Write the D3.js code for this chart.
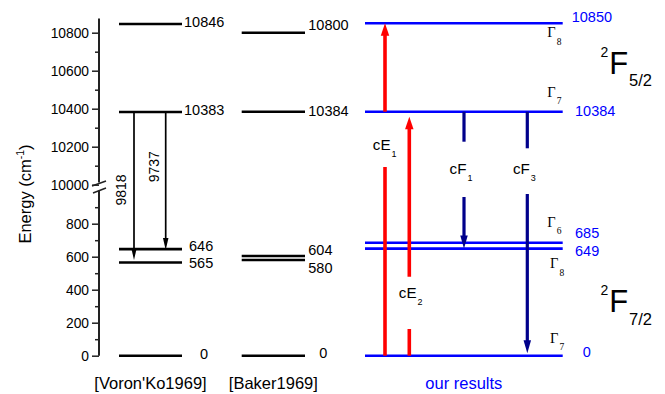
<!DOCTYPE html>
<html>
<head>
<meta charset="utf-8">
<script src="https://cdn.jsdelivr.net/npm/d3@7"></script>
<style>
  body { margin: 0; background: #fff; }
  svg { display: block; }
</style>
</head>
<body>
<svg id="chart" width="665" height="394"></svg>
<script>
// ---- Data: crystal-field levels (cm^-1) ----
const columns = ["[Voron'Ko1969]", "[Baker1969]", "our results"];
const levelsVoronko = [0, 565, 646, 10383, 10846];
const levelsBaker = [0, 580, 604, 10384, 10800];
const levelsOurs = [0, 649, 685, 10384, 10850];
const irrepsOurs = ["7", "8", "6", "7", "8"];

// axis ticks (broken axis: low and high segments)
const lowTicks = [0, 200, 400, 600, 800];
const lowMinor = [100, 300, 500, 700, 900];
const highTicks = [10000, 10200, 10400, 10600, 10800];
const highMinor = [10100, 10300, 10500, 10700];

// transitions
const voronkoFrom = [10383, 10383];
const voronkoTo = [565, 646];
const absFrom = [0, 0];
const absTo = [10850, 10384];
const absNames = [["cE", "1"], ["cE", "2"]];
const emFrom = [10384, 10384];
const emTo = [649, 0];
const emNames = [["cF", "1"], ["cF", "3"]];

// multiplets
const termNames = [["2", "F", "5/2"], ["2", "F", "7/2"]];
const termRanges = [[10384, 10850], [0, 685]];

// ---- Layout ----
const SANS = "'Liberation Sans', Arial, Helvetica, sans-serif";
const SERIF = "'Liberation Serif', 'Times New Roman', serif";
const BLUE = "#0000ff", RED = "#ff0000", NAVY = "#00008b";
const axisX = 99;

const svg = d3.select("#chart");

const yLow = d3.scaleLinear().domain([0, 1000]).range([355.7, 190.7]);
const yHigh = d3.scaleLinear().domain([10000, 10875]).range([184.7, 18.45]);
const y = v => (v >= 5000 ? yHigh(v) : yLow(v));

const colX = d3.scaleOrdinal().domain(columns)
  .range([[119, 182], [241.7, 305], [365, 562.7]]);

// ---- Axis ----
function drawAxis(scale, major, minor) {
  const gMaj = svg.append("g")
    .attr("transform", `translate(${axisX},0)`)
    .call(d3.axisLeft(scale).tickValues(major).tickSize(7).tickPadding(3).tickFormat(d3.format("d")));
  gMaj.select(".domain").remove();
  gMaj.selectAll("line").attr("stroke", "#222").attr("stroke-width", 1.5);
  gMaj.selectAll("text").attr("font-family", SANS).attr("font-size", 13.8).attr("fill", "#000");
  const gMin = svg.append("g")
    .attr("transform", `translate(${axisX},0)`)
    .call(d3.axisLeft(scale).tickValues(minor).tickSize(4).tickFormat(""));
  gMin.select(".domain").remove();
  gMin.selectAll("line").attr("stroke", "#222").attr("stroke-width", 1.5);
}
drawAxis(yLow, lowTicks, lowMinor);
drawAxis(yHigh, highTicks, highMinor);

// axis spine in two pieces with a break mark
const spine = svg.append("g").attr("stroke", "#222").attr("stroke-width", 2);
spine.append("line").attr("x1", axisX).attr("x2", axisX)
  .attr("y1", yHigh.range()[1]).attr("y2", 182.5);
spine.append("line").attr("x1", axisX).attr("x2", axisX)
  .attr("y1", 190.5).attr("y2", yLow.range()[0]);
const brk = svg.append("g").attr("stroke", "#222").attr("stroke-width", 1.5);
brk.append("line").attr("x1", 92).attr("y1", 186).attr("x2", 106).attr("y2", 181);
brk.append("line").attr("x1", 93).attr("y1", 193).attr("x2", 106).attr("y2", 188);

// axis title
svg.append("text")
  .attr("transform", `translate(31,194) rotate(-90)`)
  .attr("text-anchor", "middle")
  .attr("font-family", SANS).attr("font-size", 16.5)
  .call(t => {
    t.append("tspan").text("Energy (cm");
    t.append("tspan").attr("font-size", 10.5).attr("dy", -7).text("-1");
    t.append("tspan").attr("dy", 7).text(")");
  });

// ---- Level lines ----
const levelSets = [
  { col: columns[0], values: levelsVoronko, color: "#000",
    dx: [18, 7, 7, 2, 2], dy: [3.6, 6, 1.4, 3.3, 2.7], size: 14.5 },
  { col: columns[1], values: levelsBaker, color: "#000",
    dx: [14.3, 3.3, 3.3, 3.3, 3.3], dy: [2.3, 13.3, -0.7, 4, -2.3], size: 14.5 },
  { col: columns[2], values: levelsOurs, color: BLUE,
    dx: [20, 12.3, 12.3, 12.3, 9], dy: [1, 7.4, -4.4, 4.3, -1.5], size: 14.5 }
];

levelSets.forEach(set => {
  const [x0, x1] = colX(set.col);
  const g = svg.append("g");
  g.selectAll("line").data(set.values).join("line")
    .attr("x1", x0).attr("x2", x1)
    .attr("y1", d => y(d)).attr("y2", d => y(d))
    .attr("stroke", set.color).attr("stroke-width", 2.6);
  g.selectAll("text").data(set.values).join("text")
    .attr("x", (d, i) => x1 + set.dx[i])
    .attr("y", (d, i) => y(d) + set.dy[i])
    .attr("font-family", SANS).attr("font-size", set.size)
    .attr("fill", set.color)
    .text(d => d3.format("d")(d));
  // column caption
  svg.append("text")
    .attr("x", (x0 + x1) / 2).attr("y", 389)
    .attr("text-anchor", "middle")
    .attr("font-family", SANS).attr("font-size", 16.5)
    .attr("fill", set.color)
    .text(set.col);
});

// symmetry labels (Gamma_n) next to our levels
const gammaX = [550, 550, 547.3, 547.3, 547.3];
const gammaDy = [-13, 19.7, -16, -15, 13.8];
svg.append("g").selectAll("text").data(levelsOurs).join("text")
  .attr("x", (d, i) => gammaX[i])
  .attr("y", (d, i) => y(d) + gammaDy[i])
  .attr("font-family", SERIF).attr("font-size", 14.5).attr("fill", "#000")
  .each(function (d, i) {
    const t = d3.select(this);
    t.append("tspan").text("\u0393");
    t.append("tspan").attr("font-size", 9.5).attr("dx", 1).attr("dy", 7.5).text(irrepsOurs[i]);
  });

// ---- Arrows ----
function arrow(g, x, y0, tipY, gap, color, width, headLen, headW) {
  const dir = Math.sign(tipY - y0);
  const baseY = tipY - dir * headLen;
  const segs = [];
  if (gap) {
    const near = dir < 0 ? gap[1] : gap[0];
    const far = dir < 0 ? gap[0] : gap[1];
    segs.push([y0, near], [far, baseY + dir]);
  } else {
    segs.push([y0, baseY + dir]);
  }
  segs.forEach(([a, b]) => {
    g.append("line").attr("x1", x).attr("x2", x).attr("y1", a).attr("y2", b)
      .attr("stroke", color).attr("stroke-width", width);
  });
  g.append("path")
    .attr("d", `M${x - headW / 2},${baseY}L${x + headW / 2},${baseY}L${x},${tipY}Z`)
    .attr("fill", color);
}

function arrowLabel(x, baseline, name, sub) {
  const t = svg.append("text")
    .attr("x", x).attr("y", baseline)
    .attr("text-anchor", "middle")
    .attr("font-family", SANS).attr("font-size", 15.2).attr("fill", "#000");
  t.append("tspan").text(name);
  t.append("tspan").attr("font-size", 9).attr("dx", 1).attr("dy", 7).text(sub);
}

// Voron'ko emission arrows with rotated energy labels
const blackX = [134, 165.7];
const blackTip = [-2.5, 1];
const blackLabel = [[125.5, 190], [158.5, 166.7]];
const gB = svg.append("g");
voronkoFrom.forEach((f, i) => {
  arrow(gB, blackX[i], y(f), y(voronkoTo[i]) + blackTip[i], null, "#000", 1.7, 12, 5.5);
  svg.append("text")
    .attr("transform", `translate(${blackLabel[i][0]},${blackLabel[i][1]}) rotate(-90)`)
    .attr("text-anchor", "middle")
    .attr("font-family", SANS).attr("font-size", 14)
    .text(d3.format("d")(f - voronkoTo[i]));
});

// absorption (red)
const redX = [385, 409.3];
const redTip = [0, 5];
const redGap = [[111.7, 167], [276.7, 329]];
const redLabel = [[384.7, 150], [410.7, 298.3]];
const gR = svg.append("g");
absFrom.forEach((f, i) => {
  arrow(gR, redX[i], y(f), y(absTo[i]) + redTip[i], redGap[i], RED, 3.6, 12.5, 8.5);
  arrowLabel(redLabel[i][0], redLabel[i][1], absNames[i][0], absNames[i][1]);
});

// emission (navy)
const navyX = [464, 527.3];
const navyTip = [0, -2.4];
const navyGap = [[141.7, 197], [148.3, 194]];
const navyLabel = [[461, 174], [524.4, 174]];
const gN = svg.append("g");
emFrom.forEach((f, i) => {
  arrow(gN, navyX[i], y(f), y(emTo[i]) + navyTip[i], navyGap[i], NAVY, 3.2, 13, 7.5);
  arrowLabel(navyLabel[i][0], navyLabel[i][1], emNames[i][0], emNames[i][1]);
});

// ---- Multiplet term symbols ----
const termDy = [6.5, 13.1];
termNames.forEach((tn, i) => {
  const mid = (y(termRanges[i][0]) + y(termRanges[i][1])) / 2;
  const base = mid + termDy[i];
  const g = svg.append("g").attr("font-family", SANS).attr("fill", "#000");
  g.append("text").attr("x", 600.5).attr("y", base - 17.3).attr("font-size", 14).text(tn[0]);
  g.append("text").attr("x", 609.3).attr("y", base).attr("font-size", 31).text(tn[1]);
  g.append("text").attr("x", 629).attr("y", base + 12.3).attr("font-size", 16.5).text(tn[2]);
});
</script>
</body>
</html>
